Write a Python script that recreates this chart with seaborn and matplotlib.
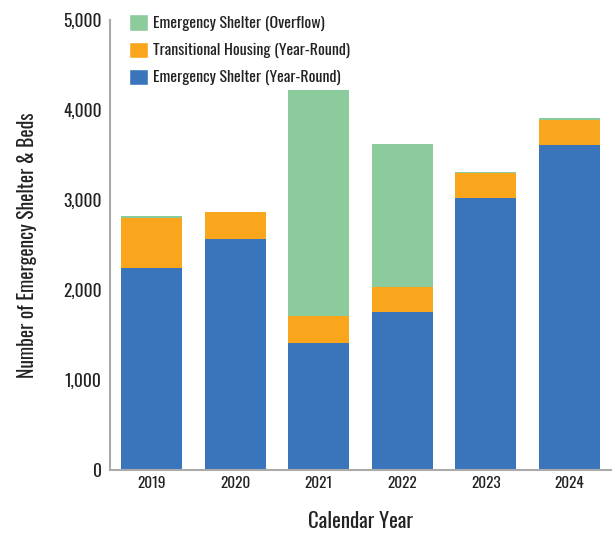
import numpy as np
import pandas as pd
import matplotlib
matplotlib.use("Agg")
import matplotlib.pyplot as plt
from matplotlib.patches import Patch
from matplotlib.ticker import FuncFormatter, FixedLocator
import seaborn as sns

years = ["2019", "2020", "2021", "2022", "2023", "2024"]
es_year_round = [2244, 2567, 1411, 1759, 3026, 3611]
th_year_round = [560, 300, 304, 274, 274, 281]
es_overflow = [22, 0, 2507, 1586, 11, 19]

colors = {
    "Emergency Shelter (Overflow)": "#8CCC9C",
    "Transitional Housing (Year-Round)": "#F9A61C",
    "Emergency Shelter (Year-Round)": "#3A75BC",
}

df = pd.DataFrame({
    "year": years,
    "es": es_year_round,
    "th": th_year_round,
    "of": es_overflow,
})
df["es_th"] = df["es"] + df["th"]
df["total"] = df["es_th"] + df["of"]

sns.set_style("white")
plt.rcParams["font.family"] = ["Oswald", "DejaVu Sans"]
plt.rcParams["font.weight"] = 300

fig = plt.figure(figsize=(6.15, 5.36), dpi=100)
ax = fig.add_axes([0.179, 0.123, 0.8145, 0.84])

# stacked bars: draw cumulative heights back to front
for col, key in [("total", "Emergency Shelter (Overflow)"),
                 ("es_th", "Transitional Housing (Year-Round)"),
                 ("es", "Emergency Shelter (Year-Round)")]:
    sns.barplot(data=df, x="year", y=col, color=colors[key], width=0.73,
                saturation=1, linewidth=0, ax=ax)

ax.set_xlim(-0.5, len(years) - 0.5)
ax.set_ylim(0, 5000)
ax.set_yticks(range(0, 5001, 1000))
ax.yaxis.set_major_formatter(FuncFormatter(lambda v, p: f"{int(v):,}"))

ax.xaxis.set_minor_locator(FixedLocator(np.arange(-0.5, len(years), 1.0)))
ax.tick_params(axis="x", which="major", length=0, pad=4, labelsize=11, labelcolor="#222222")
ax.tick_params(axis="x", which="minor", direction="in", length=7, width=1.2, color="#aaaaaa")
ax.tick_params(axis="y", which="major", direction="in", length=7, width=1.2, color="#aaaaaa",
               pad=6, labelsize=12.5, labelcolor="#222222")

for s in ["top", "right"]:
    ax.spines[s].set_visible(False)
for s in ["left", "bottom"]:
    ax.spines[s].set_color("#aaaaaa")
    ax.spines[s].set_linewidth(1.5)

ax.set_xlabel("Calendar Year", fontsize=15, color="#222222", labelpad=15)
ax.set_ylabel("Number of Emergency Shelter & Beds", fontsize=14, color="#222222", labelpad=19)

handles = [Patch(facecolor=c, label=l) for l, c in colors.items()]
ax.legend(handles=handles, loc="upper left", bbox_to_anchor=(0.01, 1.044), frameon=False,
          fontsize=11.5, handlelength=1.15, handleheight=1.2, handletextpad=0.35,
          labelspacing=0.65, labelcolor="#222222")

fig.savefig("out.png", dpi=100)
